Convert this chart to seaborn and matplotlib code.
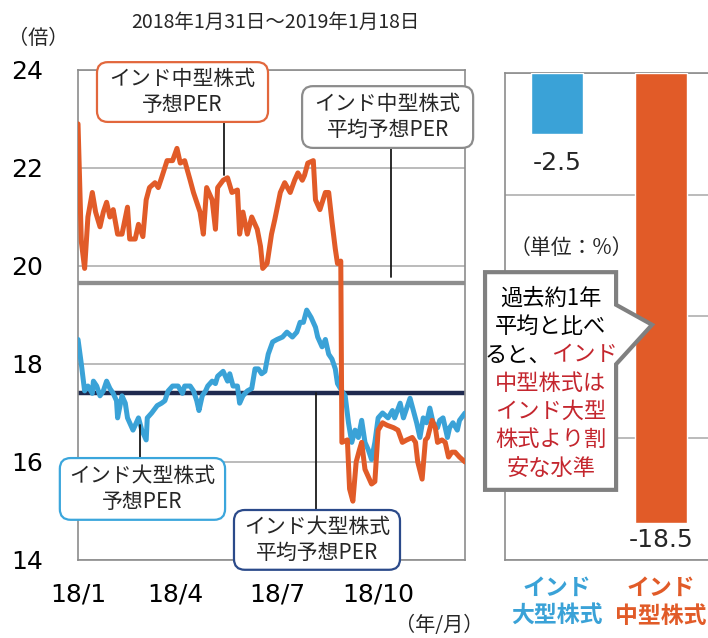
import matplotlib
matplotlib.use("Agg")
import matplotlib.pyplot as plt
from matplotlib.patches import FancyBboxPatch, Polygon
import pandas as pd
import seaborn as sns

# period of the PER history
start = pd.Timestamp("2018-01-31")
end = pd.Timestamp("2019-01-18")

# India mid-cap forward PER (days since 2018-01-31, value)
mid_days = [0, 3, 6, 9, 13, 16, 20, 23, 26, 29, 32, 36, 40, 45, 47, 52, 55, 59,
            62, 65, 70, 73, 76, 81, 86, 90, 93, 97, 102, 105, 108, 111, 114, 117,
            122, 125, 127, 132, 136, 140, 145, 147, 150, 154, 158, 163, 166, 168,
            172, 176, 179, 184, 188, 193, 197, 200, 204, 206, 209, 214, 216, 220,
            225, 228, 231, 234, 236, 239, 240, 245, 247, 250, 253, 256, 258, 261,
            264, 267, 270, 273, 277, 281, 287, 291, 295, 299, 304, 307, 309, 313,
            316, 318, 322, 325, 327, 331, 334, 337, 340, 343, 347, 352]
mid_per = [22.9, 20.5, 19.95, 21.0, 21.5, 21.1, 20.8, 21.1, 21.3, 21.0, 21.15,
           20.65, 20.65, 21.2, 20.55, 20.55, 20.85, 20.6, 21.35, 21.6, 21.7, 21.6,
           21.8, 22.15, 22.15, 22.4, 22.1, 22.15, 21.75, 21.5, 21.3, 21.1, 20.65,
           21.6, 21.35, 20.75, 21.6, 21.75, 21.8, 21.5, 21.55, 20.65, 21.1, 20.65,
           21.0, 20.75, 20.4, 19.95, 20.05, 20.65, 20.95, 21.5, 21.7, 21.5, 21.75,
           21.9, 21.75, 21.85, 22.1, 22.15, 21.35, 21.15, 21.5, 21.5, 20.9, 20.35,
           20.05, 20.1, 16.4, 16.45, 15.45, 15.2, 16.0, 16.25, 16.4, 15.85, 15.7,
           15.55, 15.6, 16.65, 16.8, 16.75, 16.7, 16.65, 16.4, 16.45, 16.5, 16.4,
           16.0, 15.65, 16.45, 16.5, 16.85, 16.7, 16.4, 16.45, 16.4, 16.1, 16.2,
           16.2, 16.1, 16.0]

# India large-cap forward PER (days since 2018-01-31, value)
large_days = [0, 3, 6, 9, 13, 14, 17, 20, 23, 26, 29, 32, 35, 36, 40, 43, 45, 47,
              50, 55, 58, 62, 63, 67, 72, 76, 79, 82, 86, 91, 95, 97, 102, 105,
              108, 110, 113, 116, 118, 122, 125, 127, 132, 136, 138, 141, 145, 147,
              150, 154, 158, 161, 164, 167, 170, 173, 177, 181, 186, 190, 195, 199,
              202, 205, 208, 212, 216, 218, 222, 225, 228, 231, 234, 236, 240, 243,
              246, 249, 252, 255, 258, 261, 264, 267, 270, 273, 277, 282, 286, 288,
              293, 296, 299, 302, 305, 308, 311, 314, 317, 320, 323, 327, 329, 332,
              336, 338, 341, 345, 347, 352]
large_per = [18.5, 18.0, 17.45, 17.55, 17.4, 17.65, 17.55, 17.35, 17.45, 17.65,
             17.5, 17.4, 17.25, 16.9, 17.35, 17.2, 16.9, 16.8, 16.65, 16.9, 16.65,
             16.45, 16.9, 17.0, 17.15, 17.2, 17.25, 17.45, 17.55, 17.55, 17.4, 17.55,
             17.55, 17.45, 17.25, 17.05, 17.35, 17.45, 17.55, 17.65, 17.6, 17.75,
             17.85, 17.65, 17.8, 17.55, 17.55, 17.2, 17.35, 17.45, 17.5, 17.9, 17.9,
             17.8, 17.85, 18.2, 18.45, 18.5, 18.55, 18.65, 18.55, 18.65, 18.85, 18.85,
             19.1, 18.95, 18.75, 18.55, 18.35, 18.5, 18.2, 18.1, 17.9, 17.6, 17.45,
             17.35, 16.8, 16.4, 16.65, 16.5, 16.85, 16.4, 16.25, 16.05, 16.4, 16.9,
             17.0, 16.9, 17.05, 16.9, 17.2, 16.9, 17.1, 17.3, 17.05, 16.8, 16.5, 16.9,
             16.8, 17.1, 16.8, 16.7, 16.85, 16.9, 16.5, 16.7, 16.8, 16.65, 16.85, 17.0]

mid_avg = 19.65
large_avg = 17.41

tick_dates = ["2018-01-31", "2018-04-30", "2018-07-31", "2018-10-31"]
tick_labels = ["18/1", "18/4", "18/7", "18/10"]

# deviation from the one-year average (%)
bar_names = ["インド\n大型株式", "インド\n中型株式"]
bar_values = [-2.5, -18.5]

ORANGE = "#e15b28"
BLUE = "#3aa2d7"
NAVY = "#1f2a4f"
AVG_GRAY = "#8e8e8e"
GRID = "#a8a8a8"
RED = "#c4262e"
JP = ["Noto Sans CJK JP", "DejaVu Sans"]

sns.set_theme(style="white")
plt.rcParams["font.family"] = ["DejaVu Sans", "Noto Sans CJK JP"]

fig = plt.figure(figsize=(7.08, 6.38), dpi=100)

# ---- left: PER history ----
ax = fig.add_axes([0.1102, 0.1223, 0.5466, 0.768])

df_mid = pd.DataFrame({"date": start + pd.to_timedelta(mid_days, unit="D"), "per": mid_per})
df_large = pd.DataFrame({"date": start + pd.to_timedelta(large_days, unit="D"), "per": large_per})

ax.axhline(mid_avg, color=AVG_GRAY, lw=3.1, zorder=2)
ax.axhline(large_avg, color=NAVY, lw=3.2, zorder=2)
sns.lineplot(data=df_large, x="date", y="per", color=BLUE, lw=3.6, ax=ax, zorder=3)
sns.lineplot(data=df_mid, x="date", y="per", color=ORANGE, lw=3.6, ax=ax, zorder=4)

ax.set_xlim(start, end)
ax.set_ylim(14, 24)
ax.set_yticks(range(14, 25, 2))
ax.set_xticks(pd.to_datetime(tick_dates))
ax.set_xticklabels(tick_labels)
ax.tick_params(axis="both", length=0, labelsize=18, colors="black")
ax.tick_params(axis="x", pad=16.5)
ax.tick_params(axis="y", pad=25)
ax.set_xlabel("")
ax.set_ylabel("")
ax.grid(axis="y", color=GRID, lw=1.1)
ax.set_axisbelow(True)
for s in ax.spines.values():
    s.set_color("#8c8c8c")
    s.set_linewidth(1.2)


def callout(axis, box, text, edge, leader, aspect):
    x0, y0, x1, y1 = box
    patch = FancyBboxPatch((x0, y0), x1 - x0, y1 - y0,
                           boxstyle="round,pad=0,rounding_size=0.028",
                           mutation_aspect=aspect, transform=axis.transAxes,
                           fc="white", ec=edge, lw=1.6, clip_on=False, zorder=6)
    axis.add_patch(patch)
    lx, ly0, ly1 = leader
    axis.plot([lx, lx], [ly0, ly1], transform=axis.transAxes, color="#1a1a1a",
              lw=1.3, clip_on=False, zorder=5)
    axis.text((x0 + x1) / 2, (y0 + y1) / 2, text, transform=axis.transAxes,
              ha="center", va="center", fontsize=15, linespacing=1.2,
              family=JP, zorder=7)


asp = 387 / 490
callout(ax, (0.049, 0.894, 0.491, 1.016), "インド中型株式\n予想PER", "#e2673c",
        (0.377, 0.894, 0.786), asp)
callout(ax, (0.579, 0.841, 1.021, 0.967), "インド中型株式\n平均予想PER", "#8c8c8c",
        (0.809, 0.841, 0.578), asp)
callout(ax, (-0.047, 0.082, 0.380, 0.208), "インド大型株式\n予想PER", "#3ba6dc",
        (0.160, 0.276, 0.208), asp)
callout(ax, (0.403, -0.020, 0.832, 0.102), "インド大型株式\n平均予想PER", "#2b4a8a",
        (0.615, 0.341, 0.102), asp)

# ---- right: deviation bars ----
axb = fig.add_axes([0.7133, 0.1223, 0.2938, 0.7633])
df_bar = pd.DataFrame({"name": bar_names, "value": bar_values})
sns.barplot(data=df_bar, x="name", y="value", hue="name", palette=[BLUE, ORANGE],
            width=0.5, saturation=1, legend=False, ax=axb, zorder=3)
axb.set_ylim(-20, 0)
axb.set_xlim(-0.5, 1.5)
axb.set_yticks(range(-20, 1, 5))
axb.set_yticklabels([])
axb.set_xticks([])
axb.tick_params(length=0)
axb.set_xlabel("")
axb.set_ylabel("")
axb.grid(axis="y", color=GRID, lw=1.1)
axb.set_axisbelow(True)
for s in axb.spines.values():
    s.set_color("#8c8c8c")
    s.set_linewidth(1.2)

label_gap = [1.2, 0.7]
for i, v in enumerate(bar_values):
    axb.text(i, v - label_gap[i], f"{v}", ha="center", va="center", fontsize=18, zorder=4)

for i, (name, c) in enumerate(zip(bar_names, [BLUE, ORANGE])):
    axb.text(i, -0.087, name, transform=axb.get_xaxis_transform(), ha="center",
             va="center", color=c, fontsize=16.5, fontweight="bold", family=JP,
             linespacing=1.25, clip_on=False)

axb.text(0.317, 0.641, "（単位：%）", transform=axb.transAxes, ha="center",
         va="center", fontsize=15, family=JP)

# callout with pointer towards the mid-cap bar
x0, x1, yt, yb = -0.096, 0.534, 0.591, 0.144
pointer = Polygon([(x0, yt), (x1, yt), (x1, 0.524), (0.707, 0.483), (x1, 0.402),
                   (x1, yb), (x0, yb)], closed=True, fc="white", ec="#808080",
                  lw=3, joinstyle="miter", transform=axb.transAxes, clip_on=False,
                  zorder=5)
axb.add_patch(pointer)

note_lines = [
    [("過去約1年", "black")],
    [("平均と比べ", "black")],
    [("ると、", "black"), ("インド", RED)],
    [("中型株式は", RED)],
    [("インド大型", RED)],
    [("株式より割", RED)],
    [("安な水準", RED)],
]
cx = 0.221
for k, parts in enumerate(note_lines):
    y = 0.538 - k * 0.0583
    if len(parts) == 1:
        axb.text(cx, y, parts[0][0], color=parts[0][1], transform=axb.transAxes,
                 ha="center", va="center", fontsize=16, family=JP, zorder=6)
    else:
        axb.text(cx, y, parts[0][0], color=parts[0][1], transform=axb.transAxes,
                 ha="right", va="center", fontsize=16, family=JP, zorder=6)
        axb.text(cx, y, parts[1][0], color=parts[1][1], transform=axb.transAxes,
                 ha="left", va="center", fontsize=16, family=JP, zorder=6)

# ---- figure texts ----
fig.text(275 / 708, 1 - 22 / 638, "2018年1月31日～2019年1月18日", ha="center",
         va="center", fontsize=14, family=JP)
fig.text(38 / 708, 1 - 39 / 638, "（倍）", ha="center", va="center", fontsize=14.5,
         family=JP)
fig.text(439 / 708, 13 / 638, "（年/月）", ha="center", va="center", fontsize=14.5,
         family=JP)

fig.savefig("out.png", dpi=100)
